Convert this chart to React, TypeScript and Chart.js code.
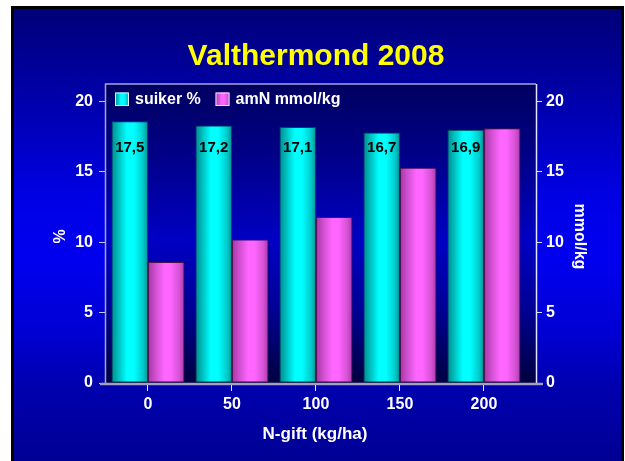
import { useEffect, useRef } from 'react';
import { Chart, registerables } from 'chart.js';

Chart.register(...registerables);

// ---- data ----
const nGift = ['0', '50', '100', '150', '200'];
const suiker = [18.6, 18.3, 18.2, 17.8, 18.0];
const amN = [8.6, 10.2, 11.8, 15.3, 18.1];
const suikerLabels = ['17,5', '17,2', '17,1', '16,7', '16,9'];
const yTicks = [0, 5, 10, 15, 20];
const seriesNames = ['suiker %', 'amN mmol/kg'];
const titleText = 'Valthermond 2008';
const xTitle = 'N-gift (kg/ha)';
const yTitle = '%';
const y2Title = 'mmol/kg';

// ---- styles ----
const FONT = "'Liberation Sans', Arial, Helvetica, sans-serif";
const CAT_PCT = 0.87;
const cyanStops: [number, string][] = [
  [0, '#008a8a'], [0.18, '#00bcbc'], [0.42, '#00ffff'], [0.62, '#00ffff'], [0.86, '#00cccc'], [1, '#009494'],
];
const magentaStops: [number, string][] = [
  [0, '#a436a4'], [0.2, '#cf4fcf'], [0.45, '#ff66ff'], [0.62, '#ff66ff'], [0.86, '#d452d4'], [1, '#a83aa8'],
];
const stopSets = [cyanStops, magentaStops];

const hGrad = (ctx: CanvasRenderingContext2D, x0: number, x1: number, stops: [number, string][]) => {
  const g = ctx.createLinearGradient(x0, 0, x1, 0);
  stops.forEach(([o, col]) => g.addColorStop(o, col));
  return g;
};

const decor = {
  id: 'decor',
  beforeDraw(chart: any) {
    const { ctx, chartArea: a } = chart;
    const H = chart.height;
    ctx.save();
    ctx.fillStyle = '#ffffff';
    ctx.fillRect(0, 0, 625, H + 10);
    ctx.fillStyle = '#000000';
    ctx.fillRect(11, 6, 613, H + 10);
    const bg = ctx.createLinearGradient(0, 9, 0, 461);
    bg.addColorStop(0, '#000078');
    bg.addColorStop(0.16, '#0000a0');
    bg.addColorStop(0.42, '#0000e6');
    bg.addColorStop(0.55, '#0000f0');
    bg.addColorStop(0.72, '#0000d2');
    bg.addColorStop(0.83, '#0000b0');
    bg.addColorStop(1, '#000094');
    ctx.fillStyle = bg;
    ctx.fillRect(14, 9, 607, H + 10);

    const pg = ctx.createLinearGradient(0, a.top, 0, a.bottom);
    pg.addColorStop(0, '#000060');
    pg.addColorStop(0.25, '#00008a');
    pg.addColorStop(0.52, '#0000c4');
    pg.addColorStop(0.75, '#000096');
    pg.addColorStop(1, '#000040');
    ctx.fillStyle = pg;
    ctx.fillRect(a.left, a.top, a.right - a.left, a.bottom - a.top);

    ctx.fillStyle = '#ffff00';
    ctx.font = `bold 30px ${FONT}`;
    ctx.textAlign = 'center';
    ctx.textBaseline = 'alphabetic';
    ctx.fillText(titleText, 316, 65);
    ctx.restore();
  },
  beforeDatasetsDraw(chart: any) {
    const { ctx, chartArea: a } = chart;
    chart.data.datasets.forEach((_d: any, di: number) => {
      chart.getDatasetMeta(di).data.forEach((el: any) => {
        const w = el.width;
        if (isFinite(el.x) && isFinite(w) && el.options) {
          try {
            el.options.backgroundColor = hGrad(ctx, el.x - w / 2, el.x + w / 2, stopSets[di]);
          } catch (e) {
            /* ignore */
          }
        }
      });
    });
    ctx.save();
    ctx.lineWidth = 1.5;
    ctx.strokeStyle = '#a4a4dc';
    ctx.beginPath();
    ctx.moveTo(a.left - 0.5, a.bottom);
    ctx.lineTo(a.left - 0.5, a.top);
    ctx.lineTo(a.right, a.top);
    ctx.stroke();
    ctx.strokeStyle = '#e4e4ff';
    ctx.beginPath();
    ctx.moveTo(a.right + 0.5, a.top);
    ctx.lineTo(a.right + 0.5, a.bottom + 1);
    ctx.stroke();
    ctx.lineWidth = 2.5;
    ctx.strokeStyle = '#a0a0c4';
    ctx.beginPath();
    ctx.moveTo(a.left - 6, a.bottom + 1);
    ctx.lineTo(a.right + 7, a.bottom + 1);
    ctx.stroke();
    ctx.restore();
  },
  afterDatasetsDraw(chart: any) {
    const { ctx, chartArea: a } = chart;
    const ys = chart.scales.y;
    ctx.save();
    const meta = chart.getDatasetMeta(0);
    ctx.fillStyle = '#000000';
    ctx.font = `bold 15px ${FONT}`;
    ctx.textAlign = 'center';
    ctx.textBaseline = 'alphabetic';
    meta.data.forEach((el: any, i: number) => {
      ctx.fillText(suikerLabels[i], el.x, ys.getPixelForValue(16.4));
    });

    const legendX = [115, 215.5];
    ctx.font = `bold 16px ${FONT}`;
    ctx.textAlign = 'left';
    legendX.forEach((x, i) => {
      ctx.fillStyle = hGrad(ctx, x, x + 14, stopSets[i]);
      ctx.fillRect(x, 92.5, 14, 13);
      ctx.strokeStyle = '#e8e8ff';
      ctx.lineWidth = 1;
      ctx.strokeRect(x + 0.5, 93, 13, 12.5);
      ctx.fillStyle = '#ffffff';
      ctx.fillText(seriesNames[i], x + 20, 104);
    });

    ctx.fillStyle = '#ffffff';
    ctx.font = `bold 17px ${FONT}`;
    ctx.textAlign = 'center';
    ctx.fillText(xTitle, 315, 438.5);

    ctx.font = `bold 16px ${FONT}`;
    ctx.textBaseline = 'middle';
    ctx.save();
    ctx.translate(61, (a.top + a.bottom) / 2 + 3);
    ctx.rotate(-Math.PI / 2);
    ctx.fillText(yTitle, 0, 0);
    ctx.restore();
    ctx.save();
    ctx.translate(579, (a.top + a.bottom) / 2 + 3);
    ctx.rotate(Math.PI / 2);
    ctx.fillText(y2Title, 0, 0);
    ctx.restore();
    ctx.restore();
  },
};

const tickFont = { family: FONT, size: 16, weight: 'bold' as const };
const keepYTicks = (s: any) => {
  s.ticks = s.ticks.filter((t: any) => yTicks.includes(t.value));
};
const solid = (col: string) => (_c: any) => col;

export default function App() {
  const ref = useRef<HTMLCanvasElement | null>(null);
  useEffect(() => {
    document.body.style.margin = '0';
    document.body.style.background = '#ffffff';
    if (!ref.current) return;
    const chart = new Chart(ref.current, {
      type: 'bar',
      data: {
        datasets: [
          {
            label: seriesNames[0],
            data: suiker.map((v, i) => ({ x: i, y: v })),
            yAxisID: 'y',
            backgroundColor: solid('#00ffff'),
            borderColor: '#004a4a',
            borderWidth: 1,
            borderSkipped: false,
          },
          {
            label: seriesNames[1],
            data: amN.map((v, i) => ({ x: i, y: v })),
            yAxisID: 'y2',
            backgroundColor: solid('#ff66ff'),
            borderColor: '#4a124a',
            borderWidth: 1,
            borderSkipped: false,
          },
        ],
      } as any,
      options: {
        responsive: false,
        animation: false,
        devicePixelRatio: 1,
        layout: { padding: { top: 84, left: 0, right: 0, bottom: 0 } },
        datasets: { bar: { categoryPercentage: CAT_PCT, barPercentage: 1 } },
        plugins: {
          legend: { display: false },
          title: { display: false },
          tooltip: { enabled: false },
        },
        scales: {
          x: {
            type: 'linear',
            min: -0.5,
            max: 4.62,
            offset: false,
            grid: { drawOnChartArea: false, drawTicks: true, tickLength: 8, color: '#e8e8ff', offset: false },
            border: { display: false },
            ticks: {
              stepSize: 1,
              includeBounds: false,
              autoSkip: false,
              maxRotation: 0,
              padding: 4,
              color: '#ffffff',
              font: tickFont,
              callback: (v: any) => nGift[v] ?? '',
            },
            afterBuildTicks: (s: any) => {
              s.ticks = s.ticks.filter((t: any) => Number.isInteger(t.value) && t.value >= 0 && t.value < nGift.length);
            },
            afterFit: (s: any) => {
              s.height = 78;
            },
          },
          y: {
            position: 'left',
            min: 0,
            max: 21.25,
            grid: { drawOnChartArea: false, tickLength: 7, color: '#c8c8f8' },
            border: { display: false },
            ticks: { stepSize: 5, includeBounds: false, padding: 6, color: '#ffffff', font: tickFont },
            afterBuildTicks: keepYTicks,
            afterFit: (s: any) => {
              s.width = 106;
            },
          },
          y2: {
            position: 'right',
            min: 0,
            max: 21.25,
            grid: { drawOnChartArea: false, tickLength: 6, color: '#d8d8ff' },
            border: { display: false },
            ticks: { stepSize: 5, includeBounds: false, padding: 4, color: '#ffffff', font: tickFont },
            afterBuildTicks: keepYTicks,
            afterFit: (s: any) => {
              s.width = 89;
            },
          },
        },
      } as any,
      plugins: [decor],
    });
    return () => chart.destroy();
  }, []);

  return (
    <div style={{ position: 'fixed', left: 0, top: 0, width: 625, height: 461, overflow: 'hidden' }}>
      <canvas ref={ref} width={625} height={461} style={{ display: 'block', width: 625, height: 461 }} />
    </div>
  );
}
